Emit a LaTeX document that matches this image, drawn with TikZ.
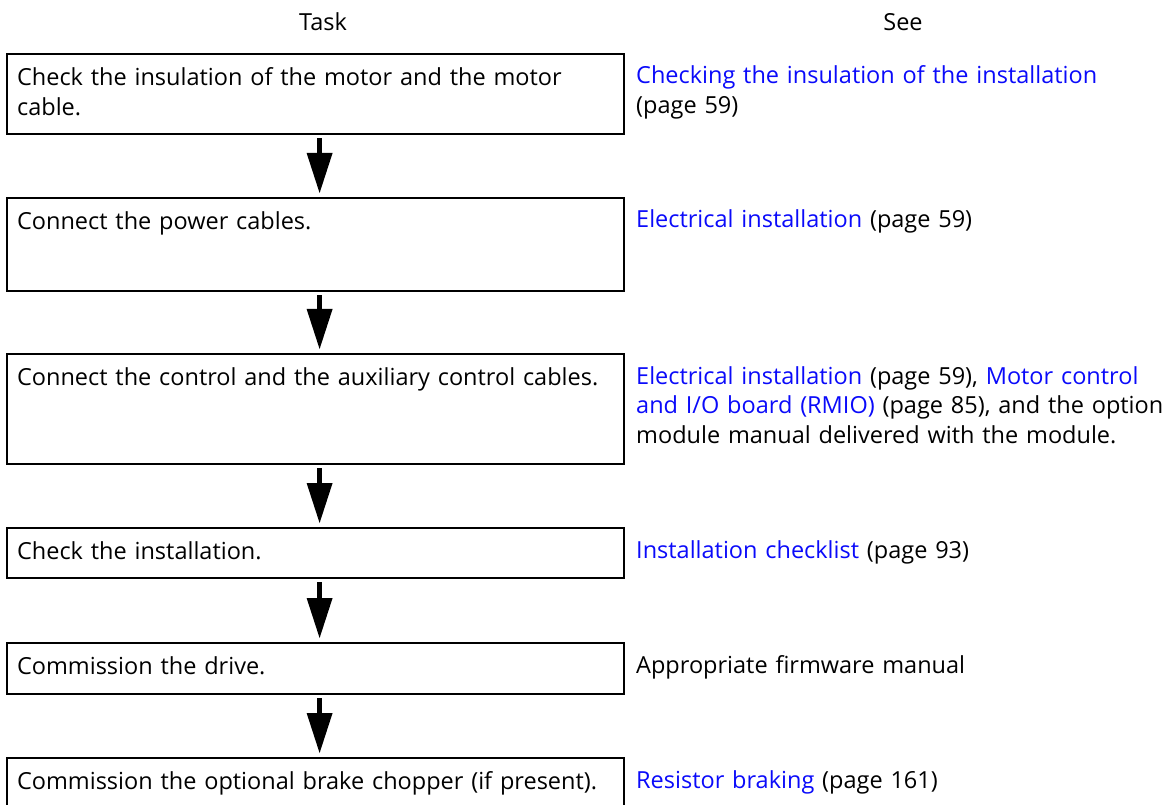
\documentclass[tikz,border=0pt]{standalone}
\usepackage{fontspec}
\setmainfont{Open Sans}
\usetikzlibrary{arrows.meta,positioning}
\definecolor{linkblue}{RGB}{10,10,250}
\tikzset{
  taskbox/.style={draw=black,line width=2.2pt,anchor=north west,
              text width=597pt,align=left,inner xsep=10pt,inner ysep=0pt,
              text height=31pt,text depth=#1},
  seetext/.style={anchor=base west,inner sep=0pt,text width=540pt,align=left},
  head/.style={inner sep=0pt},
  flowarrow/.style={line width=5.5pt,
              -{Triangle[length=40pt,width=26pt,line width=0pt]}}
}
\newcommand{\lnk}[1]{\textcolor{linkblue}{#1}}

\begin{document}
\begin{tikzpicture}[x=1pt,y=-1pt,font=\fontsize{23.5}{30}\selectfont]
  \useasboundingbox (0,0) rectangle (1171,805);
  \clip (0,0) rectangle (1171,805);

  \node[head] (htask) at (323,22) {Task};
  \node[head] (hsee) at (903,22) {See};

  % Task boxes
  \node[taskbox=49pt] (check) at (6,53) {Check the insulation of the motor and the motor\\cable.};
  \node[taskbox=62pt] (power) at (6,197) {Connect the power cables.};
  \node[taskbox=79pt] (control) at (6,353) {Connect the control and the auxiliary control cables.};
  \node[taskbox=19pt] (inst) at (6,527) {Check the installation.};
  \node[taskbox=20pt] (drive) at (6,642) {Commission the drive.};
  \node[taskbox=40pt] (chopper) at (6,757) {Commission the optional brake chopper (if present).};

  % References
  \node[seetext] (seecheck) at (636,84) {\lnk{Checking the insulation of the installation}\\(page 59)};
  \node[seetext] (seepower) at (636,228) {\lnk{Electrical installation} (page 59)};
  \node[seetext] (seecontrol) at (636,384) {\lnk{Electrical installation} (page 59), \lnk{Motor control}\\\lnk{and I/O board (RMIO)} (page 85), and the option\\module manual delivered with the module.};
  \node[seetext] (seeinst) at (636,558) {\lnk{Installation checklist} (page 93)};
  \node[seetext] (seedrive) at (636,673) {Appropriate firmware manual};
  \node[seetext] (seechopper) at (636,788) {\lnk{Resistor braking} (page 161)};

  \draw[flowarrow] ([xshift=4pt,yshift=-3pt]check.south) -- ([xshift=4pt,yshift=4pt]power.north);
  \draw[flowarrow] ([xshift=4pt,yshift=-3pt]power.south) -- ([xshift=4pt,yshift=4pt]control.north);
  \draw[flowarrow] ([xshift=4pt,yshift=-3pt]control.south) -- ([xshift=4pt,yshift=4pt]inst.north);
  \draw[flowarrow] ([xshift=4pt,yshift=-3pt]inst.south) -- ([xshift=4pt,yshift=4pt]drive.north);
  \draw[flowarrow] ([xshift=4pt,yshift=-3pt]drive.south) -- ([xshift=4pt,yshift=4pt]chopper.north);
\end{tikzpicture}
\end{document}
